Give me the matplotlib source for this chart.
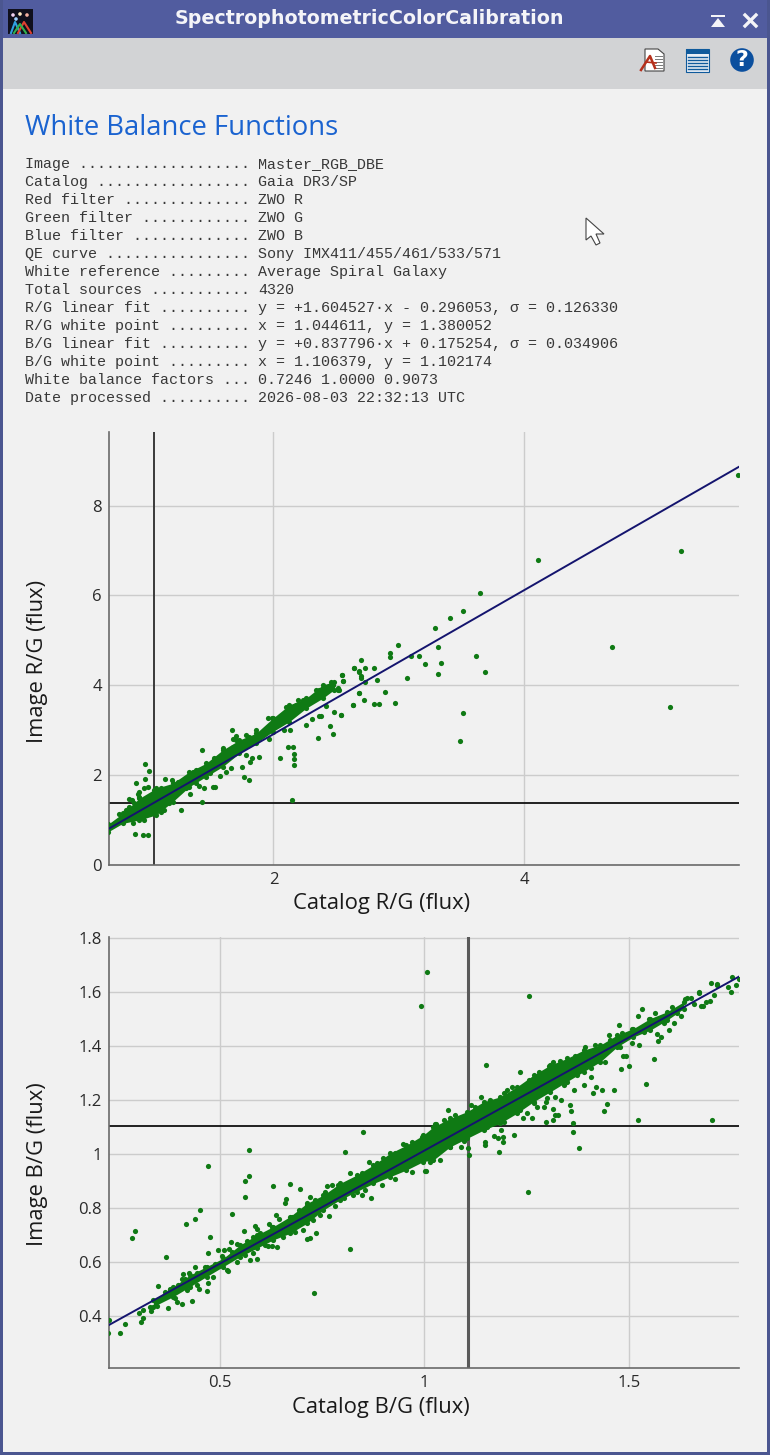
import matplotlib
matplotlib.use("Agg")
import matplotlib.pyplot as plt
from matplotlib.patches import Rectangle, Circle, Polygon

# report text
report_keys = ["Image ...................", "Catalog .................", "Red filter ..............",
               "Green filter ............", "Blue filter .............", "QE curve ................",
               "White reference .........", "Total sources ...........", "R/G linear fit ..........",
               "R/G white point .........", "B/G linear fit ..........", "B/G white point .........",
               "White balance factors ...", "Date processed .........."]
report_vals = ["Master_RGB_DBE", "Gaia DR3/SP", "ZWO R", "ZWO G", "ZWO B", "Sony IMX411/455/461/533/571",
               "Average Spiral Galaxy", "4320", "y = +1.604527\u00b7x - 0.296053, \u03c3 = 0.126330",
               "x = 1.044611, y = 1.380052", "y = +0.837796\u00b7x + 0.175254, \u03c3 = 0.034906",
               "x = 1.106379, y = 1.102174", "0.7246 1.0000 0.9073", "2026-08-03 22:32:13 UTC"]

# R/G fit and white point
rg_slope, rg_icpt = 1.604527, -0.296053
rg_wx, rg_wy = 1.044611, 1.380052
# B/G fit and white point
bg_slope, bg_icpt = 0.837796, 0.175254
bg_wx, bg_wy = 1.106379, 1.102174

# the overplotted core of each cloud can't be read dot by dot, so it is kept as an
# envelope (catalog value, lowest and highest image value)
rg_band_x = [0.685, 0.80, 0.932, 1.065, 1.198, 1.331, 1.463, 1.596, 1.729, 1.862, 1.995, 2.127, 2.26, 2.393, 2.486]
rg_band_lo = [0.742, 0.928, 1.002, 1.114, 1.41, 1.744, 1.967, 2.19, 2.487, 2.709, 2.97, 3.192, 3.489, 3.712, 3.905]
rg_band_hi = [0.913, 1.151, 1.485, 1.708, 1.819, 2.078, 2.264, 2.561, 2.784, 2.933, 3.267, 3.564, 3.712, 4.009, 4.083]

rg_x = [0.975, 1.007, 0.98, 0.908, 0.999, 0.972, 0.932, 0.919, 0.853, 0.874, 0.773, 0.895, 0.959, 1.001,
        1.264, 1.432, 1.139, 1.193, 1.432, 1.668, 1.703, 1.676, 1.522, 1.538, 1.45, 1.41, 1.339, 1.498,
        1.575, 1.623, 1.748, 1.764, 1.809, 1.811, 1.827, 1.888, 2.056, 2.12, 2.159, 2.165, 2.165, 2.167,
        2.149, 2.135, 2.088, 2.26, 2.308, 2.353, 2.367, 2.38, 2.449, 2.478, 2.42, 2.481, 2.539, 2.632,
        2.68, 2.645, 2.685, 2.544, 2.558, 2.34,
        5.70, 5.246, 4.109, 3.65, 3.514, 3.41, 3.288, 2.991, 2.927, 2.927, 3.31, 3.097, 3.163, 3.209,
        3.336, 3.612, 3.687, 3.312, 3.068, 2.89, 2.823, 2.733, 2.805, 2.73, 2.696, 2.643, 2.68, 2.696,
        2.699, 2.545, 2.558, 2.526, 2.685, 2.72, 2.635, 2.805, 2.839, 2.967, 2.542, 3.509, 4.701, 5.158, 3.49,
        0.932, 1.052, 1.105, 1.238, 1.384, 1.676, 1.803, 1.989, 2.101, 2.194, 2.34, 2.459, 2.513,
        0.879, 0.972, 1.105, 1.171, 1.304, 1.384, 1.663, 1.782, 1.968,
        0.826, 0.853, 0.893, 0.932, 0.985, 1.065, 1.105, 1.132, 1.171, 0.959, 1.025, 1.092, 1.132, 0.839, 0.799,
        2.101, 2.127, 2.234, 2.287, 2.367, 2.433, 2.473, 2.513, 2.181, 2.048, 1.955, 1.862, 1.782, 1.703,
        1.596, 1.53, 1.45, 1.357, 1.304, 1.251]
rg_y = [2.257, 2.086, 1.908, 1.834, 1.745, 1.707, 1.633, 1.581, 1.477, 1.448, 1.136, 0.698, 0.668, 0.661,
        1.218, 1.411, 1.915, 1.893, 2.569, 3.007, 2.873, 2.806, 1.745, 1.745, 1.707, 1.767, 1.574, 2.056,
        1.982, 2.079, 2.19, 1.967, 1.893, 2.301, 2.39, 2.398, 2.376, 2.628, 2.628, 2.472, 2.353, 2.227,
        1.448, 3.007, 3.007, 3.118, 3.244, 2.829, 3.318, 3.311, 3.103, 2.918, 3.541, 3.4, 3.34, 3.571,
        3.838, 4.38, 4.306, 4.232, 4.098, 3.898,
        8.678, 7.0, 6.793, 6.05, 5.65, 5.50, 5.286, 4.90, 4.714, 4.64, 4.855, 4.655, 4.662, 4.476,
        4.491, 4.662, 4.291, 4.261, 4.172, 3.86, 4.128, 4.083, 4.38, 4.387, 4.566, 4.38, 4.328, 4.217,
        4.172, 4.232, 4.105, 3.897, 3.83, 3.675, 3.571, 3.585, 3.578, 3.6, 3.348, 3.392, 4.862, 3.526, 2.76,
        1.522, 1.67, 1.707, 1.856, 2.116, 2.635, 2.858, 3.267, 3.526, 3.675, 3.749, 4.083, 3.898,
        0.928, 1.002, 1.188, 1.373, 1.707, 1.819, 2.153, 2.45, 2.799,
        1.225, 1.299, 1.374, 1.299, 1.374, 1.522, 1.522, 1.633, 1.67, 1.076, 1.151, 1.225, 1.225, 1.076, 1.002,
        3.267, 3.49, 3.675, 3.638, 3.898, 3.972, 4.009, 3.935, 3.564, 3.155, 3.267, 3.007, 2.895, 2.784,
        2.598, 2.376, 2.153, 2.079, 1.93, 1.856]

bg_band_x = [0.337, 0.386, 0.427, 0.467, 0.508, 0.549, 0.59, 0.63, 0.671, 0.712, 0.753, 0.793, 0.834, 0.875,
             0.916, 0.956, 0.997, 1.022, 1.063, 1.104, 1.145, 1.185, 1.226, 1.267, 1.308, 1.348, 1.389,
             1.43, 1.471, 1.511, 1.552, 1.593, 1.634]
bg_band_lo = [0.435, 0.472, 0.509, 0.546, 0.583, 0.62, 0.651, 0.682, 0.706, 0.743, 0.793, 0.83, 0.861, 0.891,
              0.916, 0.941, 0.972, 0.978, 1.027, 1.058, 1.089, 1.114, 1.151, 1.194, 1.231, 1.268, 1.305,
              1.342, 1.397, 1.434, 1.459, 1.496, 1.539]
bg_band_hi = [0.459, 0.509, 0.552, 0.583, 0.614, 0.663, 0.70, 0.731, 0.768, 0.817, 0.848, 0.891, 0.922, 0.959,
              1.003, 1.033, 1.07, 1.101, 1.132, 1.157, 1.194, 1.212, 1.249, 1.293, 1.33, 1.354, 1.385,
              1.404, 1.441, 1.465, 1.502, 1.527, 1.564]

bg_x = [0.229, 0.227, 0.256, 0.267, 0.306, 0.311, 0.302, 0.311, 0.331, 0.329, 0.286, 0.292, 0.369, 0.349,
        0.417, 0.439, 0.451, 0.471, 0.571, 0.572, 0.56, 0.562, 0.529, 0.475, 0.47, 0.63, 0.671, 0.696,
        0.719, 0.661, 0.658, 0.559, 0.495, 0.511, 0.521, 0.528, 0.541, 0.636, 0.644, 0.621, 0.586, 0.59,
        0.735, 0.721, 0.712, 0.819, 0.731, 0.766, 0.806, 0.849, 0.865, 0.869, 0.846, 1.002, 0.762, 0.775,
        1.026, 0.406, 0.432, 0.467, 0.449, 0.471, 0.41, 0.424, 0.44, 0.406, 0.52, 0.573, 0.59, 0.639,
        0.617, 0.372, 0.345, 0.396, 0.366, 0.378,
        1.005, 0.992, 1.255, 1.151, 1.234, 1.137, 1.113, 1.057, 1.253, 1.109, 1.106, 1.089, 1.003, 1.183,
        1.378, 1.363, 1.364, 1.22, 1.24, 1.264, 1.297, 1.315, 1.318, 1.326, 1.313, 1.359, 1.356, 1.334,
        1.318, 1.365, 1.39, 1.412, 1.419, 1.435, 1.463, 1.447, 1.439, 1.406, 1.521, 1.704, 1.541, 1.481,
        1.501, 1.56, 1.485, 1.493, 1.525, 1.571, 1.578, 1.599, 1.569, 1.626, 1.609, 1.677, 1.681, 1.697,
        1.689, 1.741, 1.749, 1.762, 1.753, 1.768, 1.70, 1.714, 1.707, 1.672, 1.652, 1.638, 1.533, 1.521,
        1.476, 1.45, 1.393, 1.314, 1.304, 1.202, 1.029, 1.149, 1.149, 1.169, 1.18, 1.192, 1.192, 1.188,
        1.291, 1.297, 1.275, 1.251,
        0.378, 0.398, 0.414, 0.443, 0.463, 0.488, 0.504, 0.529, 0.565, 0.581, 0.598, 0.626, 0.651, 0.675,
        0.692, 0.712, 0.732, 0.757, 0.789, 0.818, 0.846, 0.883, 0.899, 0.928, 0.948, 0.969, 0.993, 1.022,
        0.39, 0.419, 0.443, 0.484, 0.516, 0.541, 0.561, 0.581, 0.61, 0.626, 0.655, 0.683, 0.704, 0.728,
        0.745, 0.781, 0.802, 0.826, 0.855, 0.895, 0.928, 0.969, 1.013,
        1.047, 1.075, 1.124, 1.161, 1.194, 1.214, 1.255, 1.279, 1.308, 1.332, 1.369, 1.418, 1.454, 1.483,
        1.507, 1.548, 1.564, 1.605, 1.642, 1.67, 1.715,
        1.039, 1.063, 1.096, 1.153, 1.194, 1.234, 1.267, 1.30, 1.34, 1.373, 1.406, 1.442, 1.479, 1.507,
        1.536, 1.585, 1.617, 1.658]
bg_y = [0.384, 0.336, 0.338, 0.37, 0.377, 0.393, 0.412, 0.421, 0.417, 0.432, 0.69, 0.715, 0.619, 0.512,
        0.74, 0.759, 0.791, 0.956, 1.014, 0.92, 0.90, 0.84, 0.779, 0.694, 0.632, 0.882, 0.889, 0.872,
        0.841, 0.833, 0.817, 0.716, 0.645, 0.645, 0.65, 0.673, 0.667, 0.774, 0.761, 0.74, 0.733, 0.721,
        0.706, 0.689, 0.685, 0.649, 0.485, 0.772, 1.006, 1.08, 0.972, 0.838, 0.848, 0.937, 0.88, 0.884,
        1.111, 0.446, 0.454, 0.493, 0.499, 0.524, 0.556, 0.561, 0.582, 0.536, 0.568, 0.606, 0.611, 0.656,
        0.659, 0.431, 0.437, 0.452, 0.49, 0.499,
        1.674, 1.548, 1.584, 1.33, 1.304, 1.21, 1.181, 1.162, 0.859, 0.995, 1.023, 1.026, 0.938, 1.006,
        1.021, 1.081, 1.114, 1.072, 1.134, 1.134, 1.118, 1.126, 1.144, 1.143, 1.167, 1.159, 1.183, 1.2,
        1.212, 1.237, 1.254, 1.225, 1.249, 1.239, 1.237, 1.184, 1.159, 1.286, 1.125, 1.127, 1.259, 1.315,
        1.326, 1.352, 1.363, 1.363, 1.405, 1.417, 1.434, 1.458, 1.446, 1.511, 1.486, 1.549, 1.549, 1.568,
        1.565, 1.62, 1.602, 1.626, 1.657, 1.647, 1.632, 1.626, 1.589, 1.595, 1.577, 1.574, 1.536, 1.512,
        1.478, 1.441, 1.397, 1.342, 1.326, 1.239, 1.111, 1.046, 1.033, 1.067, 1.058, 1.064, 1.046, 1.089,
        1.175, 1.191, 1.175, 1.153,
        0.496, 0.515, 0.536, 0.558, 0.583, 0.593, 0.622, 0.638, 0.679, 0.694, 0.709, 0.728, 0.733, 0.768,
        0.793, 0.811, 0.83, 0.861, 0.885, 0.928, 0.928, 0.966, 0.984, 1.003, 1.037, 1.046, 1.064, 1.086,
        0.465, 0.496, 0.515, 0.546, 0.57, 0.601, 0.626, 0.632, 0.663, 0.659, 0.694, 0.712, 0.719, 0.756,
        0.774, 0.807, 0.836, 0.848, 0.867, 0.885, 0.906, 0.935, 0.972,
        1.126, 1.144, 1.175, 1.2, 1.225, 1.249, 1.274, 1.305, 1.323, 1.346, 1.363, 1.404, 1.422, 1.447,
        1.465, 1.499, 1.521, 1.543, 1.577, 1.599, 1.63,
        0.978, 1.027, 1.05, 1.101, 1.12, 1.163, 1.188, 1.206, 1.255, 1.293, 1.317, 1.342, 1.395, 1.41,
        1.453, 1.484, 1.521, 1.556]

GREEN = "#0f7a14"
NAVY = "#14146e"
BG = "#f1f1f1"
W, H = 770, 1455


def px_axes(fig, left, top, right, bottom):
    return fig.add_axes([left / W, 1 - bottom / H, (right - left) / W, (bottom - top) / H])


def scatter_panel(ax, band_x, band_lo, band_hi, xs, ys, slope, icpt, wx, wy, xlim, ylim,
                  xticks, xlabels, yticks, ylabels, xname, yname, vcolor, vwidth):
    ax.set_facecolor("none")
    ax.set_xlim(xlim)
    ax.set_ylim(ylim)
    ax.set_xticks(xticks)
    ax.set_xticklabels(xlabels)
    ax.set_yticks(yticks)
    ax.set_yticklabels(ylabels)
    ax.grid(True, color="#cccccc", lw=1.0)
    ax.set_axisbelow(True)
    ax.tick_params(length=0, labelsize=12, labelcolor="#2a2a2a", pad=5)
    for s in ["top", "right"]:
        ax.spines[s].set_visible(False)
    for s in ["left", "bottom"]:
        ax.spines[s].set_color("#6a6a6a")
        ax.spines[s].set_linewidth(1.2)
    ax.axvline(wx, color=vcolor, lw=vwidth, zorder=2)
    ax.axhline(wy, color="#111111", lw=1.3, zorder=2)
    ax.fill_between(band_x, band_lo, band_hi, color=GREEN, lw=0, zorder=3)
    ax.scatter(band_x + band_x, band_lo + band_hi, s=14, color=GREEN, lw=0, zorder=3)
    ax.scatter(xs, ys, s=14, color=GREEN, lw=0, zorder=3)
    ax.plot(list(xlim), [slope * xlim[0] + icpt, slope * xlim[1] + icpt], color=NAVY, lw=1.4, zorder=4)
    ax.set_xlabel(xname, fontsize=15.8, family="Open Sans", color="#1a1a1a", va="center")
    ax.set_ylabel(yname, fontsize=15.8, family="Open Sans", color="#1a1a1a", va="center")
    for lab in ax.get_xticklabels() + ax.get_yticklabels():
        lab.set_family("Open Sans")


fig = plt.figure(figsize=(7.7, 14.55), dpi=100, facecolor=BG)

# window chrome, in pixels
win = fig.add_axes([0, 0, 1, 1])
win.set_xlim(0, W)
win.set_ylim(H, 0)
win.axis("off")
win.add_patch(Rectangle((0, 0), W, 38, color="#515c9f", lw=0))
win.add_patch(Rectangle((0, 0), 3, H, color="#4b5690", lw=0))
win.add_patch(Rectangle((767, 0), 3, H, color="#4b5690", lw=0))
win.add_patch(Rectangle((0, 1452), W, 3, color="#4b5690", lw=0))
win.add_patch(Rectangle((3, 38), 764, 51, color="#d2d3d5", lw=0))
win.text(369, 18.5, "SpectrophotometricColorCalibration", color="#f4f4f8", fontsize=13.7,
         fontweight="bold", family="DejaVu Sans", ha="center", va="center")

# logo
win.add_patch(Rectangle((8, 9), 25, 25, color="#10101c", lw=0))
for cx, cy, col in [(13, 15, "#f0d0f0"), (20, 14, "#ffe9c0"), (27, 15, "#f4b0a0"), (16, 19, "#a0d0ff")]:
    win.add_patch(Circle((cx, cy), 1.8, color=col, lw=0))
win.plot([11, 15, 20], [33, 22, 33], color="#2fa0e0", lw=1.5)
win.plot([18, 24, 31], [33, 22, 33], color="#e04030", lw=1.5)
win.plot([14, 20, 26], [33, 24, 33], color="#30b050", lw=1.5)
# roll up and close buttons
win.add_patch(Polygon([[711, 27], [725, 27], [718, 18]], color="#f4f4f8", lw=0))
win.add_patch(Rectangle((711, 15), 14, 2, color="#f4f4f8", lw=0))
win.plot([745, 756], [15, 26], color="#f4f4f8", lw=2.4)
win.plot([756, 745], [15, 26], color="#f4f4f8", lw=2.4)
# pdf icon
win.add_patch(Polygon([[645, 49], [658, 49], [664, 54], [664, 71], [645, 71]], fc="white", ec="#444444", lw=0.8))
for yy in [56, 59, 62, 65, 68]:
    win.plot([655, 662], [yy, yy], color="#777777", lw=0.7)
win.plot([641, 650, 655], [70, 56, 68], color="#b5301c", lw=1.8)
win.plot([646, 656], [62, 63], color="#b5301c", lw=1.2)
# text icon
win.add_patch(Rectangle((686, 49), 23, 23, fc="#e8eef5", ec="#0f5a9c", lw=0.8))
win.add_patch(Rectangle((686, 49), 23, 5, color="#0f5a9c", lw=0))
for yy in [57, 60, 63, 66, 69]:
    win.plot([688, 707], [yy, yy], color="#0f5a9c", lw=1)
# help icon
win.add_patch(Circle((742, 60), 11.8, color="#0b4f9e", lw=0))
win.text(742, 60.5, "?", color="white", fontsize=16, fontweight="bold", family="DejaVu Sans", ha="center", va="center")

win.text(25, 128, "White Balance Functions", color="#1a63d0", fontsize=19.8, family="Open Sans", va="center")

for i, (k, v) in enumerate(zip(report_keys, report_vals)):
    yy = 164 + i * 18
    win.text(25, yy, k, family="Liberation Mono", fontsize=10.8, color="#383838", va="center")
    win.text(258, yy, v, family="Liberation Mono", fontsize=10.8, color="#383838", va="center")

# mouse pointer
win.add_patch(Polygon([[586, 218], [586, 240], [591, 236], [596, 245], [600, 243], [596, 234], [604, 234]],
                      fc="white", ec="#444444", lw=0.8))

ax1 = px_axes(fig, 109, 432, 739, 865)
scatter_panel(ax1, rg_band_x, rg_band_lo, rg_band_hi, rg_x, rg_y, rg_slope, rg_icpt, rg_wx, rg_wy,
              (0.69, 5.71), (0, 9.64), [2, 4], ["2", "4"], [0, 2, 4, 6, 8], ["0", "2", "4", "6", "8"],
              "Catalog R/G (flux)", "Image R/G (flux)", "#3a3a3a", 1.4)
ax1.xaxis.set_label_coords(0.432, -0.088)
ax1.yaxis.set_label_coords(-0.114, 0.471)

ax2 = px_axes(fig, 109, 937, 739, 1368)
scatter_panel(ax2, bg_band_x, bg_band_lo, bg_band_hi, bg_x, bg_y, bg_slope, bg_icpt, bg_wx, bg_wy,
              (0.2286, 1.769), (0.2074, 1.804), [0.5, 1, 1.5], ["0.5", "1", "1.5"],
              [0.4, 0.6, 0.8, 1, 1.2, 1.4, 1.6, 1.8], ["0.4", "0.6", "0.8", "1", "1.2", "1.4", "1.6", "1.8"],
              "Catalog B/G (flux)", "Image B/G (flux)", "#5a5a5a", 2.2)
ax2.xaxis.set_label_coords(0.432, -0.0905)
ax2.yaxis.set_label_coords(-0.114, 0.473)

fig.savefig("out.png", dpi=100, facecolor=BG)
